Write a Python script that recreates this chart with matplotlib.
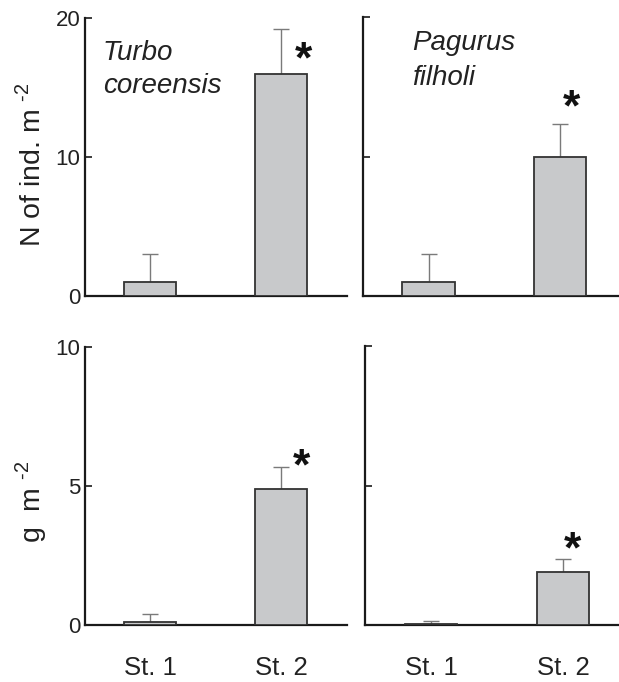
import matplotlib
matplotlib.use("Agg")
import matplotlib.pyplot as plt

plt.rcParams['font.family'] = ['Liberation Sans', 'DejaVu Sans']
plt.rcParams['mathtext.fontset'] = 'custom'
plt.rcParams['mathtext.rm'] = 'Liberation Sans'

stations = ['St. 1', 'St. 2']
positions = [1, 3]

# Top row: density (N of ind. m-2)
turbo_density = [1.0, 16.0]
turbo_density_err = [2.0, 3.2]
pagurus_density = [1.0, 10.0]
pagurus_density_err = [2.0, 2.3]

# Bottom row: biomass (g m-2)
turbo_biomass = [0.12, 4.9]
turbo_biomass_err = [0.28, 0.8]
pagurus_biomass = [0.05, 1.9]
pagurus_biomass_err = [0.1, 0.48]

# significance marks (x, y in data units)
star_tl = (3.34, 17.8)
star_tr = (3.18, 14.3)
star_bl = (3.31, 6.1)
star_br = (3.14, 3.13)

W, H = 619, 682
fig = plt.figure(figsize=(W / 100, H / 100), dpi=100)

def rect(x0, y0, x1, y1):
    return [x0 / W, 1 - y1 / H, (x1 - x0) / W, (y1 - y0) / H]

ax_tl = fig.add_axes(rect(84.5, 18, 346.5, 296))
ax_tr = fig.add_axes(rect(362.75, 17, 625.75, 296))
ax_bl = fig.add_axes(rect(84.5, 347, 346.5, 625))
ax_br = fig.add_axes(rect(365, 346, 629, 625))

bar_face = '#c8c9cb'
bar_edge = '#333333'
err_col = '#7a7a7a'

def panel(ax, vals, errs, ymax, yticks, show_labels, star, xlabels):
    ax.bar(positions, vals, width=0.8, color=bar_face, edgecolor=bar_edge,
           linewidth=1.3, zorder=3)
    ax.errorbar(positions, vals, yerr=[[0, 0], errs], fmt='none',
                ecolor=err_col, elinewidth=1.0, capsize=6, capthick=1.0, zorder=2)
    ax.set_xlim(0, 4)
    ax.set_ylim(0, ymax)
    for s in ['top', 'right']:
        ax.spines[s].set_visible(False)
    for s in ['left', 'bottom']:
        ax.spines[s].set_linewidth(1.6)
        ax.spines[s].set_color('#1a1a1a')
    ax.set_yticks(yticks)
    ax.tick_params(axis='y', direction='in', length=5, width=1.2,
                   labelsize=16, pad=3, color='#1a1a1a', labelcolor='#222222')
    if not show_labels:
        ax.set_yticklabels([])
    if xlabels:
        ax.set_xticks(positions, stations)
        ax.tick_params(axis='x', length=0, labelsize=18.5, pad=22, labelcolor='#222222')
    else:
        ax.set_xticks([])
    ax.annotate('*', xy=star, xytext=(0, -17.5), textcoords='offset points',
                ha='center', va='baseline', fontsize=32, fontweight='bold',
                color='#111111', annotation_clip=False)

panel(ax_tl, turbo_density, turbo_density_err, 20, [0, 10, 20], True, star_tl, False)
panel(ax_tr, pagurus_density, pagurus_density_err, 20, [0, 10, 20], False, star_tr, False)
panel(ax_bl, turbo_biomass, turbo_biomass_err, 10, [0, 5, 10], True, star_bl, True)
panel(ax_br, pagurus_biomass, pagurus_biomass_err, 10, [0, 5, 10], False, star_br, True)

# species names
sp_kw = dict(fontsize=20, style='italic', color='#222222', va='baseline', ha='left')
ax_tl.text(0.07, 0.849, 'Turbo', transform=ax_tl.transAxes, **sp_kw)
ax_tl.text(0.07, 0.730, 'coreensis', transform=ax_tl.transAxes, **sp_kw)
ax_tr.text(0.187, 0.882, 'Pagurus', transform=ax_tr.transAxes, **sp_kw)
ax_tr.text(0.187, 0.756, 'filholi', transform=ax_tr.transAxes, **sp_kw)

# y labels
fig.text(40 / W, 1 - 165 / H, r'N of ind. m $^{\text{-2}}$', rotation=90, rotation_mode='anchor',
         ha='center', va='baseline', fontsize=20.5, color='#222222')
fig.text(40 / W, 1 - 502 / H, r'g  m $^{\text{-2}}$', rotation=90, rotation_mode='anchor',
         ha='center', va='baseline', fontsize=20.5, color='#222222')

fig.savefig('out.png', dpi=100)
